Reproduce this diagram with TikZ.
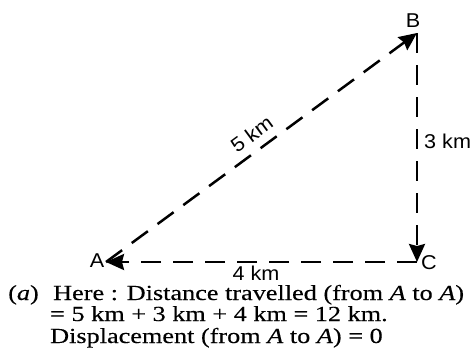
\documentclass[tikz,border=0pt]{standalone}
\usepackage{fontspec}
\setmainfont{Liberation Serif}
\newfontfamily\capfont[FakeStretch=1.22,FakeBold=0.3]{Liberation Serif}
\newfontfamily\lblfont[FakeStretch=1.08]{Liberation Sans}
\usetikzlibrary{arrows.meta}
\begin{document}
\begin{tikzpicture}[x=1pt,y=-1pt,
  conn/.style={line width=2.5pt, dash pattern=on 20pt off 12pt,
    -{Stealth[length=18pt,width=16pt,inset=2pt]}},
  lbl/.style={font=\lblfont\fontsize{20}{22}\selectfont, inner sep=0pt},
  captxt/.style={font=\capfont\fontsize{21.5}{22}\selectfont, inner sep=0pt, anchor=base west}]
\useasboundingbox (0,0) rectangle (473,356);
\coordinate (pA) at (106,262);
\coordinate (pB) at (417,33);
\coordinate (pC) at (417,262);
\draw[conn] (pA) -- node[lbl, pos=0.5, sloped, above=8pt] (l5) {5 km} (pB);
\draw[conn] (pB) -- (pC);
\draw[conn] (pC) -- (pA);
\node[lbl] (lA) at (97,261) {A};
\node[lbl] (lB) at (413,21) {B};
\node[lbl] (lC) at (429,263) {C};
\node[lbl, anchor=west] (l3) at (424,141) {3 km};
\node[lbl] (l4) at (256,273) {4 km};
\node[captxt] (c0) at (8,300) {(\textit{a})};
\node[captxt] (c1) at (53,300) {Here : Distance travelled (from \textit{A} to \textit{A})};
\node[captxt] (c2) at (50,321) {= 5 km + 3 km + 4 km = 12 km.};
\node[captxt] (c3) at (50,343) {Displacement (from \textit{A} to \textit{A}) = 0};
\end{tikzpicture}
\end{document}
